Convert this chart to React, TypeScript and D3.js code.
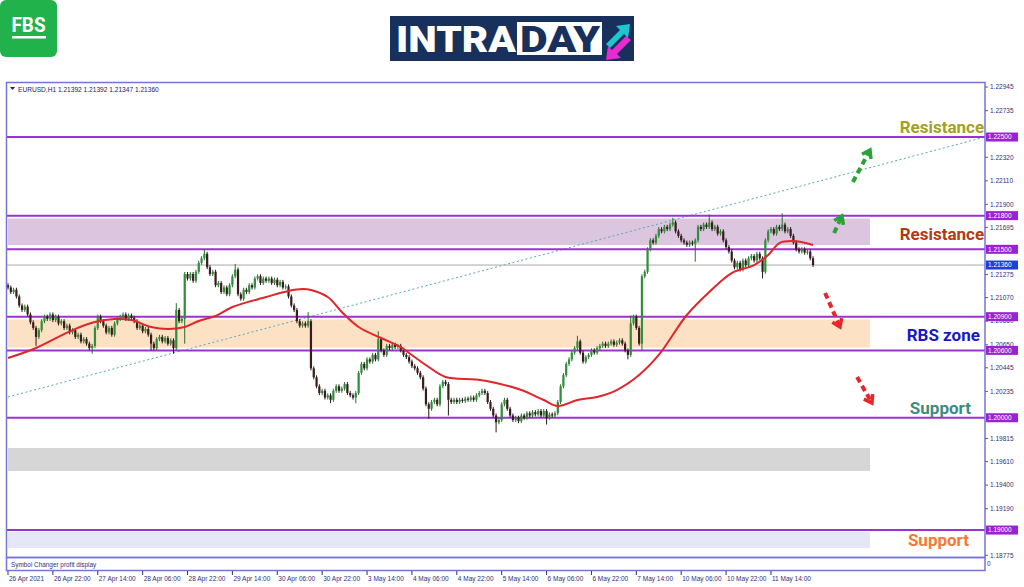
import React from 'react';
import * as d3 from 'd3';

// ---- DATA (prices in pips above 1.2000) ----
const BASE = 1.2;
const firstOpen = 118;
const apr26 = [116,112,114,108,100,96,99,92,85,80,72,78,86,90,88,92,87,90];
const apr27 = [84,86,80,82,76,78,72,74,68,70,66,62,64,80,90,86,82,76,80,74,84,88,90,92];
const apr28 = [88,91,89,86,80,82,77,79,74,66,62,70,72,68,71,66,69,62,96,86,88,128,124,128];
const apr29 = [122,130,138,142,146,134,128,130,118,120,112,116,110,118,126,132,110,106,114,112,118,116,124,126];
const apr30 = [120,124,122,124,120,123,118,121,116,117,108,100,96,86,82,84,82,86,44,36,28,22,24,18];
const may3 = [20,16,24,28,24,26,30,22,20,18,22,40,48,44,52,50,56,52,70,60,56,64,62,65];
const may4 = [63,64,60,56,54,50,46,44,40,36,26,12,8,14,16,12,28,32,30,16,14,16,14,16];
const may5 = [15,17,16,18,16,20,22,24,22,14,8,2,-4,-2,12,16,8,2,-2,0,-3,2,0,4];
const may6 = [2,5,3,6,2,6,0,3,2,4,14,28,38,48,52,58,62,68,58,50,54,56,60,58];
const may7 = [62,64,66,64,66,68,65,67,69,66,60,56,84,90,80,66,126,130,150,158,156,162,168,166];
const may10 = [170,168,172,174,166,162,158,156,154,156,155,158,170,168,172,170,174,168,170,164,166,158,152,148];
const may11 = [140,134,138,132,140,136,142,144,140,146,142,130,158,166,168,164,170,168,172,166,168,162,156,150];
const may12 = [148,150,147,148,142,136];

const highBars = [60, 70, 81, 107, 132, 203, 222, 237, 250, 276];
const highVals = [102, 150, 137, 94, 77, 73, 91, 178, 181, 182];
const lowBars = [10, 30, 51, 59, 63, 115, 124, 150, 157, 174, 192, 221, 226, 245, 269];
const lowVals = [64, 57, 60, 57, 66, 13, 13, -1, 2, -13, -6, 52, 60, 139, 124];

// moving average (bar index, price)
const maBars = [0,10,23,31,38,44,51,57,63,68,74,80,92,100,105,108,114,119,125,133,140,143,150,156,167,174,183,191,196,203,210,217,225,232,242,250,258,266,271,275,280,287];
const maVals = [1.20532,1.20621,1.20781,1.20853,1.20879,1.20870,1.20808,1.20790,1.20808,1.20862,1.20906,1.20986,1.21075,1.21129,1.21146,1.21138,1.21075,1.20942,1.20808,1.20710,1.20630,1.20577,1.20452,1.20363,1.20340,1.20310,1.20247,1.20158,1.20105,1.20158,1.20185,1.20247,1.20381,1.20559,1.20915,1.21120,1.21289,1.21360,1.21449,1.21556,1.21574,1.21538];

const levelPrices = [1.225, 1.218, 1.215, 1.209, 1.206, 1.2, 1.19];
const currentPrice = 1.2136;
const axisTicks = [1.22945,1.22735,1.22320,1.22110,1.21900,1.21695,1.21275,1.21070,1.20860,1.20650,1.20445,1.20235,1.19815,1.19610,1.19400,1.19190,1.18775];
const zoneTops = [1.21775, 1.20875, 1.19731, 1.18983];
const zoneBottoms = [1.21538, 1.20625, 1.19526, 1.18840];
const timeLabels = ["26 Apr 2021","26 Apr 22:00","27 Apr 14:00","28 Apr 06:00","28 Apr 22:00","29 Apr 14:00","30 Apr 06:00","30 Apr 22:00","3 May 14:00","4 May 06:00","4 May 22:00","5 May 14:00","6 May 06:00","6 May 22:00","7 May 14:00","10 May 06:00","10 May 22:00","11 May 14:00"];
const trendBars = [0, 348.3];
const trendVals = [1.20185, 1.225];
const zoneLabels = ["Resistance", "Resistance", "RBS zone", "Support", "Support"];
const zoneLabelPrices = [1.22589, 1.21636, 1.20737, 1.20087, 1.18911];
const zoneLabelEnds = [348.0, 348.0, 346.5, 343.3, 342.6];
// arrows: [bar0, price0, bar1, price1]
const arrowsUp = [[301.2, 1.22099, 307.3, 1.22384], [294.5, 1.21645, 297.3, 1.21797]];
const arrowsDown = [[291.3, 1.21111, 296.6, 1.20808], [302.7, 1.20363, 308.0, 1.20131]];

const allCloses = [...apr26, ...apr27, ...apr28, ...apr29, ...apr30, ...may3, ...may4, ...may5, ...may6, ...may7, ...may10, ...may11, ...may12];

export default function App() {
  const x = d3.scaleLinear().domain([0, 348.3]).range([8, 985]);
  const y = d3.scaleLinear().domain([1.1876, 1.2299]).range([557, 82]);
  const p = (v: number) => BASE + v / 10000;

  const hiMap = new Map(highBars.map((b, i) => [b, highVals[i]]));
  const loMap = new Map(lowBars.map((b, i) => [b, lowVals[i]]));
  const candles = allCloses.map((c, i) => {
    const o = i === 0 ? firstOpen : allCloses[i - 1];
    const hi = hiMap.has(i) ? hiMap.get(i)! : Math.max(o, c) + 1.8;
    const lo = loMap.has(i) ? loMap.get(i)! : Math.min(o, c) - 1.8;
    return { i, o: p(o), c: p(c), h: p(hi), l: p(lo) };
  });

  const maLine = d3.line<number>().x((_, i) => x(maBars[i])).y(v => y(v)).curve(d3.curveCatmullRom.alpha(0.5))(maVals) || '';

  const zoneColors = ['#dcc6df', '#fde1c4', '#d6d6d6', '#e5e7f6'];
  const labelColors = ['#a3a21f', '#b23a12', '#1818c8', '#3c8c82', '#f47a32'];
  const font = 'Liberation Sans, Arial, sans-serif';
  const L = 8, R = 985, T = 82, B = 557;

  const arrow = (a: number[], color: string, k: number) => {
    const x0 = x(a[0]), y0 = y(a[1]), x1 = x(a[2]), y1 = y(a[3]);
    const ang = Math.atan2(y1 - y0, x1 - x0);
    const hl = 9;
    const p1 = [x1 - hl * Math.cos(ang - 0.6), y1 - hl * Math.sin(ang - 0.6)];
    const p2 = [x1 - hl * Math.cos(ang + 0.6), y1 - hl * Math.sin(ang + 0.6)];
    return (
      <g key={k}>
        <line x1={x0} y1={y0} x2={x1 - 3 * Math.cos(ang)} y2={y1 - 3 * Math.sin(ang)} stroke={color} strokeWidth={4} strokeDasharray="6 4" />
        <polyline points={`${p1[0]},${p1[1]} ${x1},${y1} ${p2[0]},${p2[1]}`} fill="none" stroke={color} strokeWidth={3.5} strokeLinejoin="miter" />
      </g>
    );
  };

  return (
    <svg width={1024} height={587} style={{ position: 'absolute', left: 0, top: 0, background: '#fff' }} fontFamily={font}>
      <rect x={0} y={0} width={1024} height={587} fill="#fff" />
      {/* FBS logo */}
      <rect x={0} y={0} width={57} height={57} rx={6} fill="#22b24c" />
      <text x={28.5} y={32} textAnchor="middle" fill="#fff" fontFamily="Roboto, sans-serif" fontWeight={700} fontSize={20} textLength={34} lengthAdjust="spacingAndGlyphs">FBS</text>
      <rect x={12} y={36} width={34} height={2.5} fill="#fff" />
      {/* INTRADAY logo */}
      <rect x={390} y={16} width={244} height={45} fill="#17305c" />
      <rect x={517} y={22} width={85} height={33} fill="#fff" />
      <text x={396} y={52} fill="#fff" fontFamily="Roboto, sans-serif" fontWeight={900} fontSize={37} textLength={120} lengthAdjust="spacingAndGlyphs">INTRA</text>
      <text x={520} y={52} fill="#17305c" fontFamily="Roboto, sans-serif" fontWeight={900} fontSize={37} textLength={80} lengthAdjust="spacingAndGlyphs">DAY</text>
      <polygon points="606,44 620,30 616,26 630,24 628,38 624,34 610,48" fill="#1fc6d0" />
      <polygon points="631,40 617,54 621,58 606,60 608,46 612,50 626,36" fill="#e62bd0" />

      {/* zones */}
      {zoneTops.map((t, i) => (
        <rect key={'z' + i} x={x(0)} y={y(t)} width={x(307.3) - x(0)} height={y(zoneBottoms[i]) - y(t)} fill={zoneColors[i]} />
      ))}

      {/* trendline */}
      <line x1={x(trendBars[0])} y1={y(trendVals[0])} x2={x(trendBars[1])} y2={y(trendVals[1])} stroke="#4fa9c2" strokeWidth={1} strokeDasharray="2 2.5" />

      {/* current price line */}
      <line x1={L - 2} x2={R} y1={y(currentPrice)} y2={y(currentPrice)} stroke="#a8a8a8" strokeWidth={1} />

      {/* level lines */}
      {levelPrices.map((lv, i) => (
        <line key={'lv' + i} x1={L - 2} x2={R} y1={y(lv)} y2={y(lv)} stroke="#9b32cf" strokeWidth={2} />
      ))}

      {/* candles */}
      {candles.map(d => {
        const cx = x(d.i);
        const up = d.c >= d.o;
        const col = up ? '#2f8f3a' : '#3b1c1c';
        const top = y(Math.max(d.o, d.c));
        const bot = y(Math.min(d.o, d.c));
        return (
          <g key={'c' + d.i}>
            <line x1={cx} x2={cx} y1={y(d.h)} y2={y(d.l)} stroke={up ? '#2a6e30' : '#2a1a1a'} strokeWidth={1} />
            <rect x={cx - 1.1} y={top} width={2.2} height={Math.max(1, bot - top)} fill={col} />
          </g>
        );
      })}

      {/* moving average */}
      <path d={maLine} fill="none" stroke="#e0262a" strokeWidth={2} />

      {/* arrows */}
      {arrowsUp.map((a, k) => arrow(a, '#2ba238', k))}
      {arrowsDown.map((a, k) => arrow(a, '#e6262a', 10 + k))}

      {/* zone labels */}
      {zoneLabels.map((t, i) => (
        <text key={'zl' + i} x={x(zoneLabelEnds[i])} y={y(zoneLabelPrices[i])} dy="0.35em" textAnchor="end" fill={labelColors[i]} fontFamily="Roboto, sans-serif" fontWeight={700} fontSize={17}>{t}</text>
      ))}

      {/* frames */}
      <rect x={6.5} y={T + 0.5} width={R - 6.5} height={B - T} fill="none" stroke="#7474dc" strokeWidth={1.5} />
      <rect x={6.5} y={B + 0.5} width={R - 6.5} height={13} fill="none" stroke="#7474dc" strokeWidth={1.5} />
      <text x={11} y={566.5} fontSize={6.4} fill="#30307a">Symbol Changer profit display</text>

      {/* header */}
      <polygon points="10,87 15,87 12.5,90" fill="#20206a" />
      <text x={18} y={91.5} fontSize={6.6} fill="#20206a">EURUSD,H1  1.21392 1.21392 1.21347 1.21360</text>

      {/* right axis */}
      {axisTicks.map((t, i) => (
        <g key={'at' + i}>
          <line x1={R} x2={R + 3} y1={y(t)} y2={y(t)} stroke="#5a5ab0" />
          <text x={990} y={y(t)} dy="0.35em" fontSize={6.5} fill="#30307a">{t.toFixed(5)}</text>
        </g>
      ))}
      {levelPrices.map((lv, i) => (
        <g key={'lb' + i}>
          <rect x={986} y={y(lv) - 4.5} width={32} height={9} fill="#9b22d0" />
          <text x={988} y={y(lv)} dy="0.35em" fontSize={6.5} fill="#fff">{lv.toFixed(5)}</text>
        </g>
      ))}
      <rect x={986} y={y(currentPrice) - 4.5} width={32} height={9} fill="#1f3fd6" />
      <text x={988} y={y(currentPrice)} dy="0.35em" fontSize={6.5} fill="#fff">{currentPrice.toFixed(5)}</text>
      <text x={987} y={566} fontSize={6.5} fill="#30307a">0</text>

      {/* time axis */}
      {timeLabels.map((t, i) => (
        <g key={'tl' + i}>
          <line x1={x(i * 16)} x2={x(i * 16)} y1={571} y2={575} stroke="#30307a" />
          <text x={x(i * 16) + 1} y={581} fontSize={6.5} fill="#30307a">{t}</text>
        </g>
      ))}
    </svg>
  );
}
